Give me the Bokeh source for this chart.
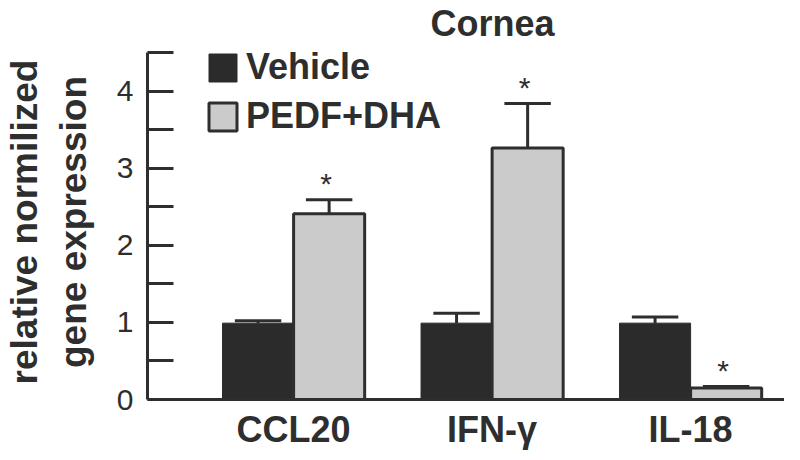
from bokeh.plotting import figure
from bokeh.models import (ColumnDataSource, Range1d, FixedTicker, Legend,
                          LegendItem, Title)
from bokeh.transform import dodge
from bokeh.core.properties import value
from bokeh.embed import file_html
from bokeh.resources import INLINE

# ---- data ----
genes = ["CCL20", "IFN-γ", "IL-18"]
vehicle_mean = [0.99, 0.99, 0.99]
vehicle_sem = [0.03, 0.13, 0.08]
pedf_mean = [2.41, 3.26, 0.15]
pedf_sem = [0.18, 0.58, 0.02]
vehicle_sig = ["", "", ""]
pedf_sig = ["*", "*", "*"]
series_names = ["Vehicle", "PEDF+DHA"]
y_ticks = [0, 1, 2, 3, 4]
y_minor_ticks = [0.5, 1.5, 2.5, 3.5, 4.5]
y_axis_max = 4.5
title_text = "Cornea"
y_label = "relative normilized\ngene expression"

# ---- style ----
FONT = "Liberation Sans"
INK = "#2e2e2e"
DARK = "#2b2b2b"
LIGHT = "#cbcbcb"
BW = 0.358      # bar width (category units)
OFF = 0.179     # dodge offset
CAP = 0.117     # half cap width
HEADROOM = 0.1035  # small space above the axis end for the legend

xpos = [i + 0.5 for i in range(len(genes))]
src = ColumnDataSource(dict(
    x=xpos, gene=genes,
    veh=vehicle_mean,
    veh_top=[m + s for m, s in zip(vehicle_mean, vehicle_sem)],
    pedf=pedf_mean,
    pedf_top=[m + s for m, s in zip(pedf_mean, pedf_sem)],
    veh_sig=vehicle_sig, pedf_sig=pedf_sig,
))

p = figure(width=784, height=452, output_backend="svg", toolbar_location=None,
           x_range=Range1d(-0.236, 2.973),
           y_range=Range1d(0, y_axis_max + HEADROOM),
           min_border_left=139, min_border_right=0, min_border_top=44,
           min_border_bottom=52, title=None)
p.outline_line_color = None
p.xgrid.grid_line_color = None
p.ygrid.grid_line_color = None
p.background_fill_color = "white"
p.border_fill_color = "white"

p.add_layout(Title(text=title_text, align="left", offset=283, standoff=1,
                   text_font=FONT, text_font_size="36px",
                   text_font_style="bold", text_color=INK), "above")

veh_r = p.vbar(x=dodge("x", -OFF), top="veh", width=BW, bottom=0, source=src,
               fill_color=DARK, line_color=DARK, line_width=1)
pedf_r = p.vbar(x=dodge("x", OFF), top="pedf", width=BW, bottom=0, source=src,
                fill_color=LIGHT, line_color=INK, line_width=3)

for off, lo, hi, sig in [(-OFF, "veh", "veh_top", "veh_sig"),
                         (OFF, "pedf", "pedf_top", "pedf_sig")]:
    p.segment(x0=dodge("x", off), y0=lo, x1=dodge("x", off), y1=hi,
              source=src, line_color=INK, line_width=3)
    p.segment(x0=dodge("x", off - CAP), y0=hi, x1=dodge("x", off + CAP), y1=hi,
              source=src, line_color=INK, line_width=3)
    p.text(x=dodge("x", off - 0.015), y=hi, text=sig, source=src,
           text_align="center", text_baseline="alphabetic", y_offset=-16,
           text_font=value(FONT), text_font_size="30px", text_color=INK)

# y axis
ya = p.yaxis[0]
ya.bounds = (0, y_axis_max)
ya.ticker = FixedTicker(ticks=y_ticks, minor_ticks=y_minor_ticks)
ya.axis_line_width = 3
ya.axis_line_color = INK
ya.major_tick_in = 26
ya.major_tick_out = 0
ya.minor_tick_in = 26
ya.minor_tick_out = 0
ya.major_tick_line_width = 3
ya.minor_tick_line_width = 3
ya.major_tick_line_color = INK
ya.minor_tick_line_color = INK
ya.major_label_text_font = FONT
ya.major_label_text_font_size = "30px"
ya.major_label_text_color = INK
ya.major_label_standoff = 14
ya.axis_label = y_label
ya.axis_label_text_font = FONT
ya.axis_label_text_font_size = "37px"
ya.axis_label_text_font_style = "bold"
ya.axis_label_text_color = INK
ya.axis_label_standoff = 20

# x axis
xa = p.xaxis[0]
xa.ticker = FixedTicker(ticks=xpos)
xa.major_label_overrides = {x: g for x, g in zip(xpos, genes)}
xa.axis_line_width = 3
xa.axis_line_color = INK
xa.major_tick_in = 0
xa.major_tick_out = 0
xa.minor_tick_in = 0
xa.minor_tick_out = 0
xa.major_label_text_font = FONT
xa.major_label_text_font_size = "36px"
xa.major_label_text_font_style = "bold"
xa.major_label_text_color = INK
xa.major_label_standoff = 9

legend = Legend(items=[LegendItem(label=series_names[0], renderers=[veh_r]),
                       LegendItem(label=series_names[1], renderers=[pedf_r])],
                location=(58, 262), padding=0, margin=0, spacing=7,
                glyph_width=35, glyph_height=35, label_standoff=6,
                label_text_font=FONT, label_text_font_size="36px",
                label_text_font_style="bold", label_text_color=INK,
                border_line_color=None, background_fill_alpha=0)
p.add_layout(legend)

open("out.html", "w").write(file_html(p, INLINE))
